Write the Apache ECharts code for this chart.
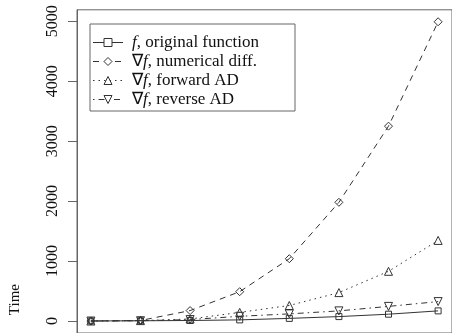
<!DOCTYPE html>
<html><head><meta charset="utf-8">
<script src="https://cdn.jsdelivr.net/npm/echarts@6/dist/echarts.min.js"></script>
<style>html,body{margin:0;padding:0;background:#fff}#c{width:452px;height:333px}</style>
</head><body><div id="c"></div>
<script>
const xValues = [1, 2, 3, 4, 5, 6, 7, 8];
const seriesNames = ['f, original function', '∇f, numerical diff.', '∇f, forward AD', '∇f, reverse AD'];
const original  = [2, 5, 10, 20, 45, 75, 115, 170];
const numerical = [1, 10, 175, 490, 1040, 1980, 3250, 4990];
const forward   = [1, 8, 35, 145, 260, 475, 830, 1345];
const reverse   = [1, 6, 25, 80, 120, 170, 245, 325];
const yTicks = [0, 1000, 2000, 3000, 4000, 5000];
const yTitle = 'Time';

const FONT = 'Liberation Serif';
const INK = '#333';
const legendRich = {
  '0': '{i|f}{r|, original function}',
  '1': '{r|∇}{i|f}{r|, numerical diff.}',
  '2': '{r|∇}{i|f}{r|, forward AD}',
  '3': '{r|∇}{i|f}{r|, reverse AD}'
};

function pts(arr) { return xValues.map((x, i) => [x, arr[i]]); }

function mk(name, arr, symbol, size, dash, rot) {
  return {
    name: name, type: 'line', data: pts(arr),
    symbol: symbol, symbolSize: size, symbolRotate: rot || 0,
    showAllSymbol: true, animation: false,
    lineStyle: { color: INK, width: 1, type: dash },
    itemStyle: { color: 'rgba(0,0,0,0)', borderColor: INK, borderWidth: 1 },
    emphasis: { disabled: true }
  };
}

const chart = echarts.init(document.getElementById('c'), null, { renderer: 'canvas' });
chart.setOption({
  backgroundColor: '#fff',
  animation: false,
  grid: { left: 77, top: 9.8, width: 378, height: 325, show: true, borderColor: '#666', borderWidth: 1, containLabel: false },
  xAxis: { type: 'value', min: 0.72, max: 8.28, show: false },
  yAxis: {
    type: 'value', min: -198.6, max: 5189.6,
    axisLine: { show: true, lineStyle: { color: '#666' } },
    axisTick: { show: true, length: 9, customValues: yTicks, lineStyle: { color: '#666' } },
    axisLabel: { customValues: yTicks, rotate: 90, margin: 16, fontFamily: FONT, fontSize: 16, color: '#111',
      formatter: function (v) { return String(v); } },
    splitLine: { show: false }
  },
  legend: {
    orient: 'vertical', left: 90, top: 24,
    data: seriesNames,
    backgroundColor: '#fff',
    borderColor: '#666', borderWidth: 1,
    padding: [9, 36, 2, 2.5],
    itemWidth: 30, itemHeight: 10, itemGap: 0,
    lineStyle: { width: 1, color: INK },
    itemStyle: { borderWidth: 1, borderColor: INK, color: '#fff' },
    formatter: function (name) { return legendRich[seriesNames.indexOf(name)]; },
    textStyle: {
      fontFamily: FONT, fontSize: 17, color: '#111', lineHeight: 19, padding: [0, 0, 0, 4],
      rich: {
        i: { fontFamily: FONT, fontSize: 17, fontStyle: 'italic', color: '#111', lineHeight: 19 },
        r: { fontFamily: FONT, fontSize: 17, color: '#111', lineHeight: 19 }
      }
    },
    selectedMode: false
  },
  graphic: [{
    type: 'text', left: 8, top: 284,
    rotation: Math.PI / 2,
    style: { text: yTitle, fontFamily: FONT, fontSize: 15, fill: '#111' }
  }],
  series: [
    mk(seriesNames[0], original, 'rect', 6, 'solid'),
    mk(seriesNames[1], numerical, 'diamond', 8, [6, 5]),
    mk(seriesNames[2], forward, 'triangle', 8, [1.5, 4]),
    mk(seriesNames[3], reverse, 'triangle', 8, [1.5, 4, 6, 4], 180)
  ]
});
</script></body></html>
